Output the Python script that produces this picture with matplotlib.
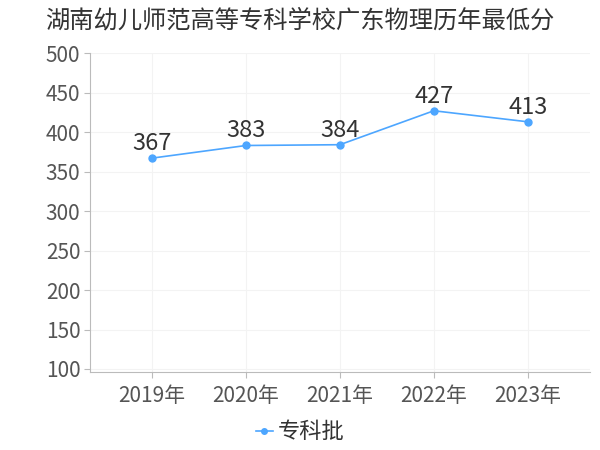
import matplotlib
matplotlib.use('Agg')
import matplotlib.pyplot as plt

plt.rcParams['font.family'] = ['Noto Sans CJK SC', 'DejaVu Sans']

# 数据
years = ['2019年', '2020年', '2021年', '2022年', '2023年']
scores = [367, 383, 384, 427, 413]
yticks = [100, 150, 200, 250, 300, 350, 400, 450, 500]

line_color = '#4da6ff'
text_color = '#555555'

fig = plt.figure(figsize=(6, 4.5), dpi=100)
ax = fig.add_axes([0.15, 0.173, 0.833, 0.709])

x = list(range(len(years)))
ax.plot(x, scores, color=line_color, lw=1.2, marker='o', ms=5, label='专科批', zorder=3)
for xi, s in zip(x, scores):
    ax.text(xi, s + 4, str(s), ha='center', va='bottom', fontsize=17, color='#333333', zorder=4)

ax.set_xlim(-0.66, 4.66)
ax.set_ylim(96, 500)
ax.set_xticks(x)
ax.set_xticklabels(years)
ax.set_yticks(yticks)
ax.tick_params(axis='y', labelsize=15, colors='#bbbbbb', labelcolor=text_color, length=4, pad=3)
ax.tick_params(axis='x', labelsize=15, colors='#bbbbbb', labelcolor=text_color, length=4, pad=5)
ax.grid(True, color='#f3f3f3', lw=0.8)
ax.set_axisbelow(True)
for side in ['top', 'right']:
    ax.spines[side].set_visible(False)
ax.spines['left'].set_color('#bbbbbb')
ax.spines['bottom'].set_color('#bbbbbb')

fig.text(0.075, 0.955, '湖南幼儿师范高等专科学校广东物理历年最低分', fontsize=17.5, color='#333333', va='center')

leg = fig.legend(loc='center', bbox_to_anchor=(0.5, 0.04), frameon=False, fontsize=16,
                 handlelength=0.8, handletextpad=0.2, markerscale=0.8)
for t in leg.get_texts():
    t.set_color('#333333')

fig.savefig('out.png', dpi=100)
